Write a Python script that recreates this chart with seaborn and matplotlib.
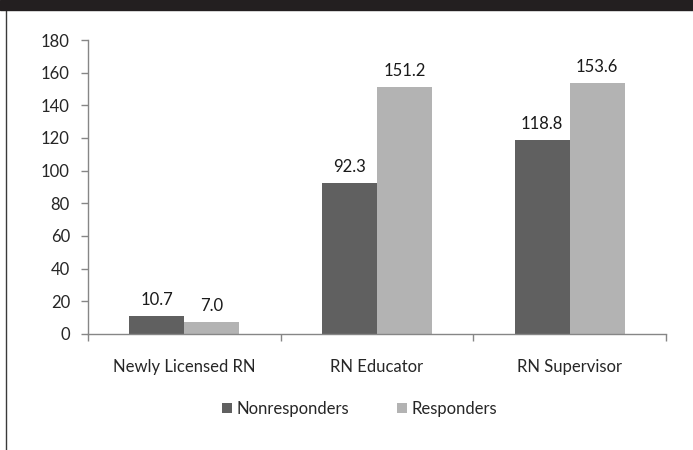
import matplotlib
matplotlib.use("Agg")
import matplotlib.pyplot as plt
import pandas as pd
import seaborn as sns
from matplotlib.lines import Line2D
from matplotlib.patches import Rectangle

categories = ["Newly Licensed RN", "RN Educator", "RN Supervisor"]
groups = ["Nonresponders", "Responders"]
nonresponders = [10.7, 92.3, 118.8]
responders = [7.0, 151.2, 153.6]
y_ticks = [0, 20, 40, 60, 80, 100, 120, 140, 160, 180]

df = pd.DataFrame({
    "category": categories * 2,
    "group": [groups[0]] * 3 + [groups[1]] * 3,
    "value": nonresponders + responders,
})

sns.set_style("white")
plt.rcParams["font.family"] = ["Lato", "DejaVu Sans"]
fs = 12

fig = plt.figure(figsize=(6.93, 4.5), dpi=100)
ax = fig.add_axes([0.127, 0.258, 0.834, 0.653])

sns.barplot(data=df, x="category", y="value", hue="group",
            palette=["#606060", "#b3b3b3"], width=0.57, saturation=1,
            ax=ax, errorbar=None, linewidth=0)

for cont in ax.containers:
    ax.bar_label(cont, fmt="%.1f", padding=6, fontsize=fs, color="#1a1a1a")

ax.set_ylim(0, 180)
ax.set_yticks(y_ticks)
ax.set_xlim(-0.5, 2.5)
ax.set_xlabel("")
ax.set_ylabel("")
ax.set_xticks([-0.5, 0.5, 1.5, 2.5], minor=True)
ax.tick_params(axis="x", which="major", length=0, pad=18, labelsize=fs)
ax.tick_params(axis="x", which="minor", length=5, color="#868686", width=1, direction="out")
ax.tick_params(axis="y", length=5, color="#868686", width=1, direction="out", pad=8, labelsize=fs)
ax.tick_params(left=True, bottom=True, which="both")
for s in ["top", "right"]:
    ax.spines[s].set_visible(False)
for s in ["left", "bottom"]:
    ax.spines[s].set_color("#868686")
    ax.spines[s].set_linewidth(1)

handles, labels = ax.get_legend_handles_labels()
ax.legend(handles, labels, loc="center", bbox_to_anchor=(0.519, 0.091),
          bbox_transform=fig.transFigure, ncol=2, frameon=False,
          fontsize=fs, handlelength=0.6, handleheight=0.6,
          handletextpad=0.25, columnspacing=2.9)

# page frame: black header band and left rule
fig.add_artist(Rectangle((0, 1 - 10 / 450), 1, 10 / 450, transform=fig.transFigure,
                         color="#231f20", zorder=5))
fig.add_artist(Line2D([5.5 / 693, 5.5 / 693], [0, 1 - 10 / 450], transform=fig.transFigure,
                      color="#3a3a3a", linewidth=1))

fig.savefig("out.png", dpi=100)
